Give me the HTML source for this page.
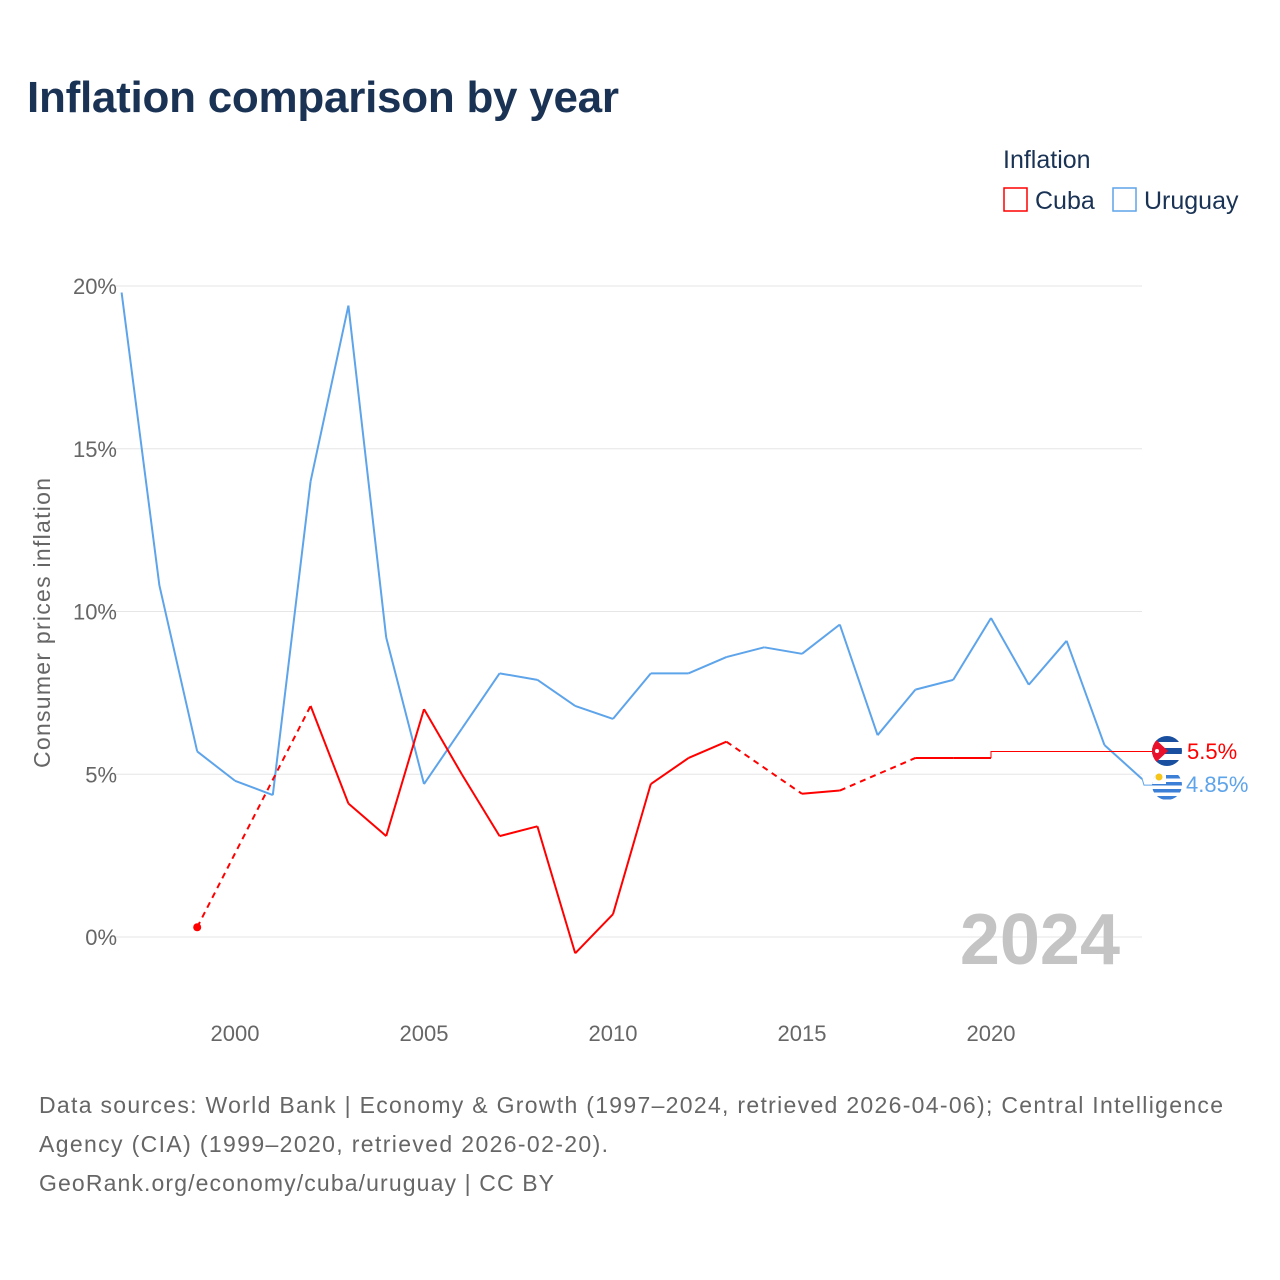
<!DOCTYPE html>
<html><head><meta charset="utf-8">
<style>
body{margin:0;background:#fff;font-family:"Liberation Sans",sans-serif;}
#wrap{position:relative;width:1280px;height:1280px;overflow:hidden;}
</style></head>
<body>
<div id="wrap">
<svg id="chart" width="1280" height="1280">
<defs>
<clipPath id="cClip"><circle cx="1167" cy="751" r="15"/></clipPath>
<clipPath id="uClip"><circle cx="1167" cy="785" r="15"/></clipPath>
</defs>
<text x="27" y="112" font-size="44" font-weight="bold" fill="#1a3355" textLength="592">Inflation comparison by year</text>
<text x="1003" y="168" font-size="25" fill="#1a3355">Inflation</text>
<g><rect x="1004" y="188" width="23" height="23" fill="none" stroke="#f00" stroke-width="1.5"/><text x="1035" y="209" font-size="25" fill="#1a3355">Cuba</text></g>
<g><rect x="1113" y="188" width="23" height="23" fill="none" stroke="#5ea4ea" stroke-width="1.5"/><text x="1144" y="209" font-size="25" fill="#1a3355">Uruguay</text></g>
<text transform="translate(50,623) rotate(-90)" text-anchor="middle" font-size="23" fill="#666" textLength="290">Consumer prices inflation</text>
<g id="grid"></g><g id="ylabels"></g><g id="xlabels"></g>
<text x="1120" y="964" text-anchor="end" font-size="72" font-weight="bold" fill="#c4c4c4">2024</text>
<g id="series"></g>
<g font-size="23" fill="#666">
<text x="39" y="1113" textLength="1184">Data sources: World Bank | Economy &amp; Growth (1997–2024, retrieved 2026-04-06); Central Intelligence</text>
<text x="39" y="1152" textLength="569">Agency (CIA) (1999–2020, retrieved 2026-02-20).</text>
<text x="39" y="1191" textLength="515">GeoRank.org/economy/cuba/uruguay | CC BY</text>
</g>
</svg>
</div>
<script>
const years=[1997,1998,1999,2000,2001,2002,2003,2004,2005,2006,2007,2008,2009,2010,2011,2012,2013,2014,2015,2016,2017,2018,2019,2020,2021,2022,2023,2024];
const uruguay=[19.8,10.8,5.7,4.8,4.36,14.0,19.4,9.2,4.7,6.4,8.1,7.9,7.1,6.7,8.1,8.1,8.6,8.9,8.7,9.6,6.2,7.6,7.9,9.8,7.75,9.1,5.9,4.85];
const cuba=[null,null,0.3,null,null,7.1,4.1,3.1,7.0,5.0,3.1,3.4,-0.5,0.7,4.7,5.5,6.0,null,4.4,4.5,null,5.5,5.5,5.5,null,null,null,null];
const yTicks=[0,5,10,15,20];
const xTicks=[2000,2005,2010,2015,2020];
const X=y=>121.6+(y-1997)*37.8;
const Y=v=>937-v*32.55;
const ns="http://www.w3.org/2000/svg";
function mk(t,a,p){const e=document.createElementNS(ns,t);for(const k in a)e.setAttribute(k,a[k]);p.appendChild(e);return e;}
const grid=document.getElementById('grid'),yl=document.getElementById('ylabels'),xl=document.getElementById('xlabels'),ser=document.getElementById('series');
yTicks.forEach(t=>{
 const l=mk('line',{x1:116,x2:1142,y1:Y(t),y2:Y(t),stroke:'#e6e6e6','stroke-width':1},grid);
 
 
 const tx=mk('text',{x:117,y:Y(t)+8,'text-anchor':'end','font-size':22,fill:'#666'},yl);
 tx.textContent=t+'%';
 
 
});
xTicks.forEach(t=>{
 const tx=mk('text',{x:X(t),y:1041,'text-anchor':'middle','font-size':22,fill:'#666'},xl);
 tx.textContent=t;
 
 
});
function draw(vals,color,name){
 const g=mk('g',{},ser);
 
 
 const pts=[];vals.forEach((v,i)=>{if(v!==null)pts.push([years[i],v,i]);});
 for(let k=1;k<pts.length;k++){
  const a=pts[k-1],b=pts[k];
  const dashed=b[2]-a[2]>1;
  const l=mk('line',{x1:X(a[0]),y1:Y(a[1]),x2:X(b[0]),y2:Y(b[1]),stroke:color,'stroke-width':2,'stroke-dasharray':dashed?'6,5':'none'},g);
  
  
 }
 return {g,pts};
}
const u=draw(uruguay,'#5ea4ea','uruguay');
const c=draw(cuba,'#f00','cuba');
const first=c.pts[0];
const dot=mk('circle',{cx:X(first[0]),cy:Y(first[1]),r:4,fill:'#f00'},c.g);


const last=c.pts[c.pts.length-1];
const lead=mk('polyline',{points:`${X(last[0])},${Y(last[1])} ${X(last[0])},${Y(5.7)} 1152,${Y(5.7)}`,fill:'none',stroke:'#f00','stroke-width':1},c.g);


const ulast=uruguay[uruguay.length-1];
const ul=mk('polyline',{points:`${X(2024)},${Y(ulast)} 1144,${Y(ulast)+6} 1152,${Y(ulast)+6}`,fill:'none',stroke:'#5ea4ea','stroke-width':1},u.g);


const cy=751, uy=785;
const fc=mk('g',{'clip-path':'url(#cClip)'},ser);


mk('rect',{x:1152,y:cy-15,width:30,height:30,fill:'#fff'},fc);
for(let i=0;i<5;i+=2)mk('rect',{x:1152,y:cy-15+i*6,width:30,height:6,fill:'#1a4fa0'},fc);
mk('path',{d:`M1152,${cy-15} L1168,${cy} L1152,${cy+15}Z`,fill:'#e8102a'},fc);
mk('circle',{cx:1157,cy:cy,r:2,fill:'#fff'},fc);
const fu=mk('g',{'clip-path':'url(#uClip)'},ser);


mk('rect',{x:1152,y:uy-15,width:30,height:30,fill:'#fff'},fu);
for(let i=0;i<4;i++)mk('rect',{x:1152,y:uy-10+i*7,width:30,height:3.5,fill:'#3b7fd6'},fu);
mk('rect',{x:1152,y:uy-15,width:14,height:14,fill:'#fff'},fu);
mk('circle',{cx:1159,cy:uy-8,r:3.5,fill:'#f5c518'},fu);
const t1=mk('text',{x:1187,y:cy+8,'font-size':22,fill:'#f00'},ser);
t1.textContent='5.5%';


const t2=mk('text',{x:1186,y:uy+7,'font-size':22,fill:'#5ea4ea'},ser);
t2.textContent='4.85%';


</script>
</body></html>
